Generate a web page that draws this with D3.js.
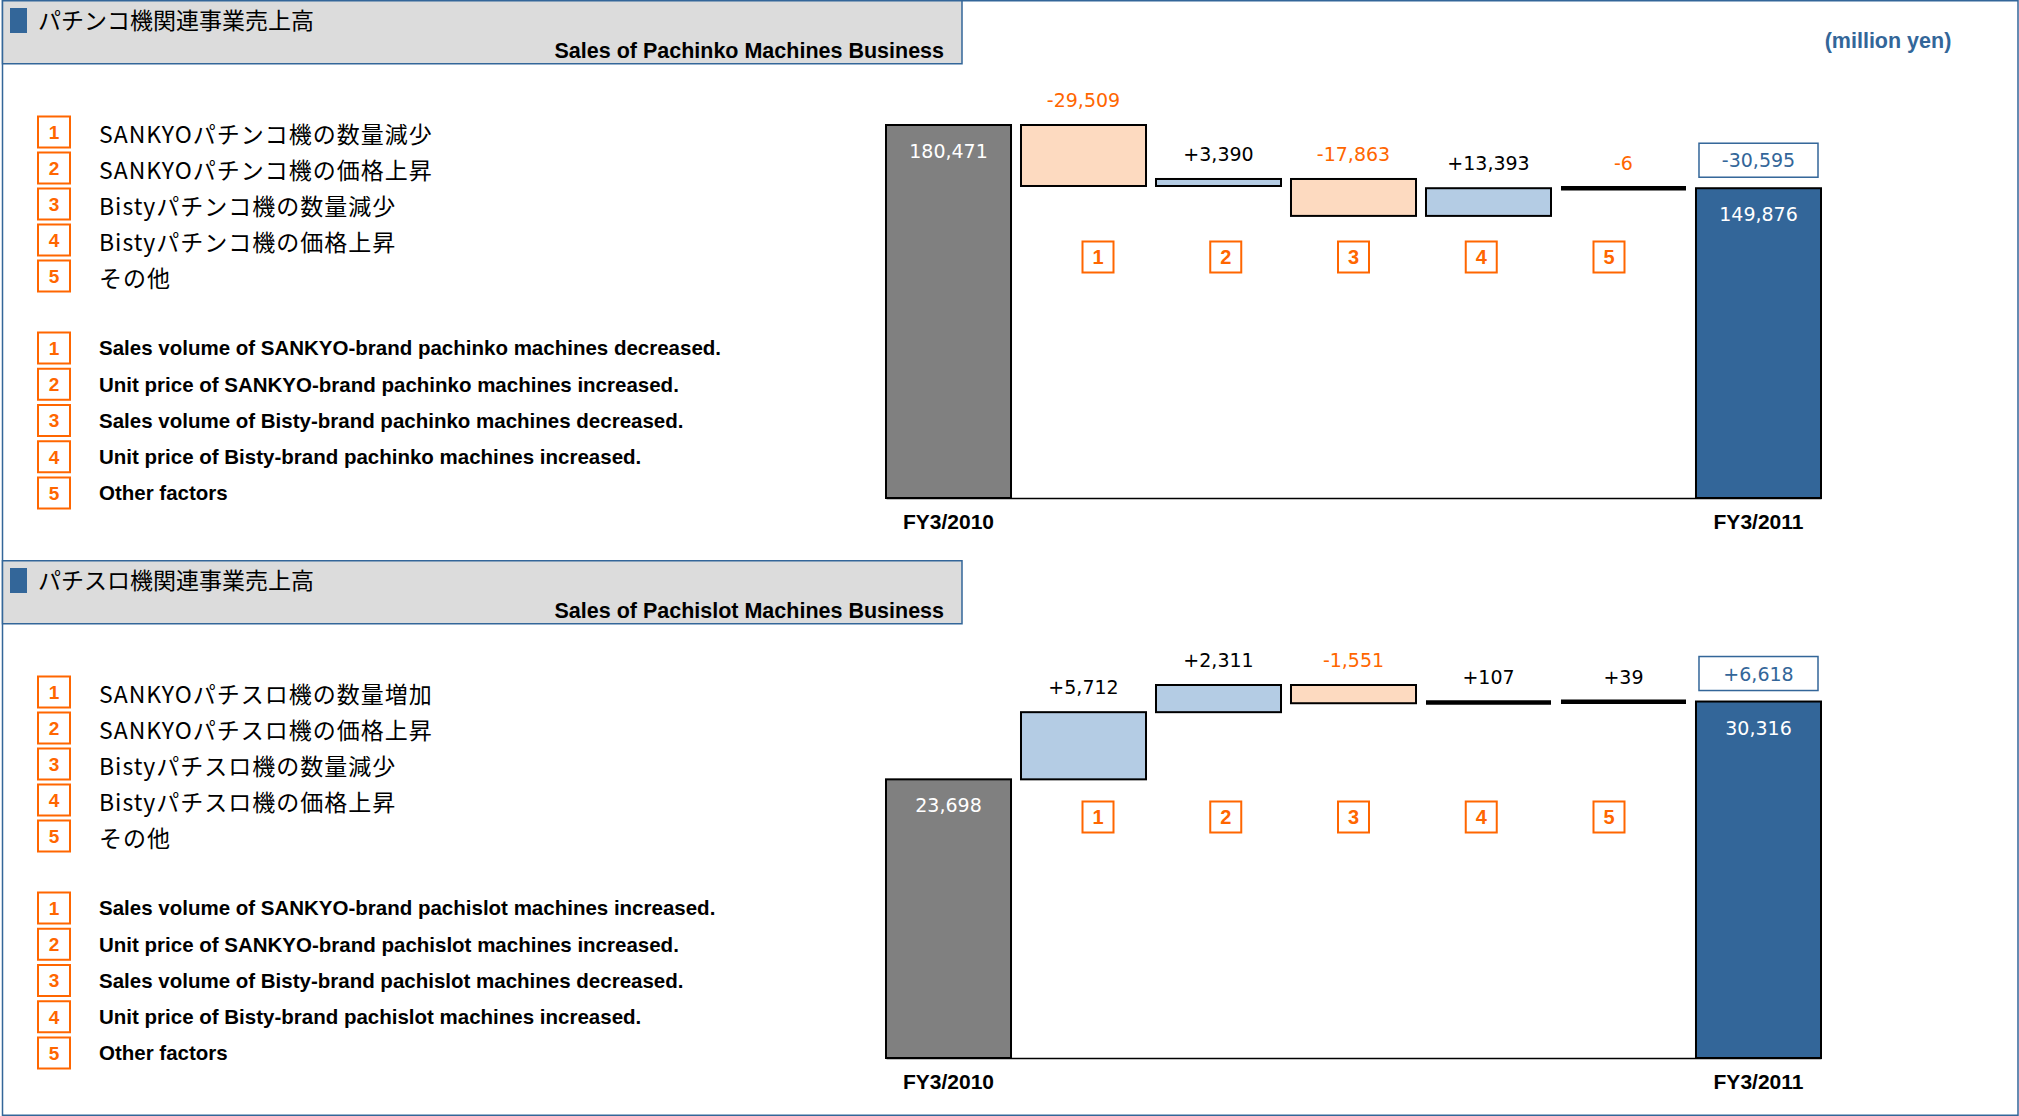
<!DOCTYPE html>
<html>
<head>
<meta charset="utf-8">
<script src="https://cdn.jsdelivr.net/npm/d3@7"></script>
<style>
  body { margin: 0; background: #fff; }
  svg { display: block; }
</style>
</head>
<body>
<div id="chart"></div>
<script>
// categories of the waterfall
const steps = ['FY3/2010', '1', '2', '3', '4', '5', 'FY3/2011'];
const factorIds = ['1', '2', '3', '4', '5'];

// pachinko values (million yen)
const pachinkoStart = 180471;
const pachinkoChanges = [-29509, 3390, -17863, 13393, -6];
const pachinkoEnd = 149876;
const pachinkoTotal = -30595;

// pachislot values (million yen)
const pachislotStart = 23698;
const pachislotChanges = [5712, 2311, -1551, 107, 39];
const pachislotEnd = 30316;
const pachislotTotal = 6618;

const pachinkoTitles = ['パチンコ機関連事業売上高', 'Sales of Pachinko Machines Business'];
const pachislotTitles = ['パチスロ機関連事業売上高', 'Sales of Pachislot Machines Business'];

const pachinkoJp = [
    'SANKYOパチンコ機の数量減少',
    'SANKYOパチンコ機の価格上昇',
    'Bistyパチンコ機の数量減少',
    'Bistyパチンコ機の価格上昇',
    'その他'
];
const pachinkoEn = [
    'Sales volume of SANKYO-brand pachinko machines decreased.',
    'Unit price of SANKYO-brand pachinko machines increased.',
    'Sales volume of Bisty-brand pachinko machines decreased.',
    'Unit price of Bisty-brand pachinko machines increased.',
    'Other factors'
];
const pachislotJp = [
    'SANKYOパチスロ機の数量増加',
    'SANKYOパチスロ機の価格上昇',
    'Bistyパチスロ機の数量減少',
    'Bistyパチスロ機の価格上昇',
    'その他'
];
const pachislotEn = [
    'Sales volume of SANKYO-brand pachislot machines increased.',
    'Unit price of SANKYO-brand pachislot machines increased.',
    'Sales volume of Bisty-brand pachislot machines decreased.',
    'Unit price of Bisty-brand pachislot machines increased.',
    'Other factors'
];

const BLUE = '#336699';
const ORANGE = '#FF6600';
const SANS = '"Liberation Sans", Arial, sans-serif';
const JP = '"Noto Sans CJK JP", sans-serif';
const NUM = '"DejaVu Sans", Verdana, sans-serif';

const locale = d3.formatLocale({ decimal: '.', thousands: ',', grouping: [3], currency: ['', ''], minus: '-' });
const fmt = locale.format(',');
const fmtSigned = locale.format('+,');

const svg = d3.select('#chart').append('svg')
    .attr('width', 2019)
    .attr('height', 1116);

// page frame
svg.append('rect')
    .attr('x', 2.5).attr('y', 0.75)
    .attr('width', 2015.5).attr('height', 1114.5)
    .attr('fill', 'none')
    .attr('stroke', BLUE)
    .attr('stroke-width', 1.5);

svg.append('text')
    .attr('x', 1888).attr('y', 48)
    .attr('text-anchor', 'middle')
    .attr('font-family', SANS)
    .attr('font-weight', 'bold')
    .attr('font-size', 21.5)
    .attr('fill', BLUE)
    .text('(million yen)');

drawSection(0, {
    titles: pachinkoTitles, jp: pachinkoJp, en: pachinkoEn,
    start: pachinkoStart, changes: pachinkoChanges, end: pachinkoEnd, total: pachinkoTotal
});
drawSection(560, {
    titles: pachislotTitles, jp: pachislotJp, en: pachislotEn,
    start: pachislotStart, changes: pachislotChanges, end: pachislotEnd, total: pachislotTotal
});

function numberBox(g, cx, cy, w, h, label, size) {
    g.append('rect')
        .attr('x', cx - w / 2).attr('y', cy - h / 2)
        .attr('width', w).attr('height', h)
        .attr('fill', '#fff')
        .attr('stroke', ORANGE)
        .attr('stroke-width', 2);
    g.append('text')
        .attr('x', cx).attr('y', cy + size * 0.36)
        .attr('text-anchor', 'middle')
        .attr('font-family', SANS)
        .attr('font-weight', 'bold')
        .attr('font-size', size)
        .attr('fill', ORANGE)
        .text(label);
}

function drawSection(top, cfg) {
    const g = svg.append('g').attr('transform', `translate(0,${top})`);

    // header band
    g.append('rect')
        .attr('x', 2.5).attr('y', 0.75)
        .attr('width', 959.5).attr('height', 63)
        .attr('fill', '#DCDCDC')
        .attr('stroke', BLUE)
        .attr('stroke-width', 1.5);
    g.append('rect')
        .attr('x', 10).attr('y', 8)
        .attr('width', 17).attr('height', 25)
        .attr('fill', BLUE);
    g.append('text')
        .attr('x', 38).attr('y', 29)
        .attr('font-family', JP)
        .attr('font-size', 23)
        .attr('fill', '#000')
        .text(cfg.titles[0]);
    g.append('text')
        .attr('x', 944).attr('y', 58)
        .attr('text-anchor', 'end')
        .attr('font-family', SANS)
        .attr('font-weight', 'bold')
        .attr('font-size', 21.5)
        .attr('fill', '#000')
        .text(cfg.titles[1]);

    // legends
    cfg.jp.forEach((t, i) => {
        const cy = 116 + i * 36 + 16;
        numberBox(g, 54, cy, 32, 31, factorIds[i], 19);
        g.append('text')
            .attr('x', 99).attr('y', cy + 2 + 23 * 0.38)
            .attr('font-family', JP)
            .attr('font-size', 23)
            .attr('letter-spacing', 1)
            .attr('fill', '#000')
            .text(t);
    });
    cfg.en.forEach((t, i) => {
        const cy = 332 + i * 36.25 + 16;
        numberBox(g, 54, cy, 32, 31, factorIds[i], 19);
        g.append('text')
            .attr('x', 99).attr('y', cy + 20.5 * 0.36)
            .attr('font-family', SANS)
            .attr('font-weight', 'bold')
            .attr('font-size', 20.5)
            .attr('fill', '#000')
            .text(t);
    });

    // waterfall data
    let cum = cfg.start;
    const bars = [{ key: steps[0], y0: 0, y1: cfg.start, type: 'start' }];
    cfg.changes.forEach((c, i) => {
        bars.push({ key: steps[i + 1], y0: cum, y1: cum + c, type: c < 0 ? 'down' : 'up', value: c });
        cum += c;
    });
    bars.push({ key: steps[6], y0: 0, y1: cfg.end, type: 'end' });

    const x = d3.scaleBand()
        .domain(steps)
        .range([886, 1821])
        .paddingInner(0.074);

    const y = d3.scaleLinear()
        .domain([0, d3.max(bars, d => Math.max(d.y0, d.y1))])
        .range([498, 125]);

    const fill = { start: '#808080', end: BLUE, up: '#B4CCE4', down: '#FDDAC0' };

    const thick = bars.filter(d => Math.abs(y(d.y0) - y(d.y1)) < 3);
    const boxes = bars.filter(d => Math.abs(y(d.y0) - y(d.y1)) >= 3);

    g.selectAll('.bar')
        .data(boxes)
        .enter().append('rect')
        .attr('class', 'bar')
        .attr('x', d => x(d.key))
        .attr('y', d => y(Math.max(d.y0, d.y1)))
        .attr('width', x.bandwidth())
        .attr('height', d => Math.abs(y(d.y0) - y(d.y1)))
        .attr('fill', d => fill[d.type])
        .attr('stroke', '#000')
        .attr('stroke-width', 2);

    g.selectAll('.flat')
        .data(thick)
        .enter().append('line')
        .attr('class', 'flat')
        .attr('x1', d => x(d.key))
        .attr('x2', d => x(d.key) + x.bandwidth())
        .attr('y1', d => y((d.y0 + d.y1) / 2))
        .attr('y2', d => y((d.y0 + d.y1) / 2))
        .attr('stroke', '#000')
        .attr('stroke-width', 4.5);

    // change labels above the steps
    g.selectAll('.chg')
        .data(bars.filter(d => d.value !== undefined))
        .enter().append('text')
        .attr('class', 'chg')
        .attr('x', d => x(d.key) + x.bandwidth() / 2)
        .attr('y', d => y(Math.max(d.y0, d.y1)) - 18)
        .attr('text-anchor', 'middle')
        .attr('font-family', NUM)
        .attr('font-size', 19)
        .attr('fill', d => d.value < 0 ? ORANGE : '#000')
        .text(d => fmtSigned(d.value));

    // totals inside start / end bars
    g.selectAll('.tot')
        .data(bars.filter(d => d.type === 'start' || d.type === 'end'))
        .enter().append('text')
        .attr('class', 'tot')
        .attr('x', d => x(d.key) + x.bandwidth() / 2)
        .attr('y', d => y(d.y1) + 33)
        .attr('text-anchor', 'middle')
        .attr('font-family', NUM)
        .attr('font-size', 19)
        .attr('fill', '#fff')
        .text(d => fmt(d.y1));

    // overall change box
    const endBar = bars[bars.length - 1];
    g.append('rect')
        .attr('x', x(endBar.key) + 3)
        .attr('y', y(endBar.y1) - 45)
        .attr('width', x.bandwidth() - 6)
        .attr('height', 34)
        .attr('fill', '#fff')
        .attr('stroke', BLUE)
        .attr('stroke-width', 1.5);
    g.append('text')
        .attr('x', x(endBar.key) + x.bandwidth() / 2)
        .attr('y', y(endBar.y1) - 28 + 7)
        .attr('text-anchor', 'middle')
        .attr('font-family', NUM)
        .attr('font-size', 19)
        .attr('fill', BLUE)
        .text(fmtSigned(cfg.total));

    // factor number boxes under the steps
    const px = d3.scalePoint()
        .domain(factorIds)
        .range([x('1') + x.bandwidth() / 2 + 14.5, x('5') + x.bandwidth() / 2 - 14.5]);
    factorIds.forEach(k => numberBox(g, px(k), 257, 31, 31, k, 20));

    // baseline axis with year labels
    const axis = g.append('g')
        .attr('transform', 'translate(0,498)')
        .call(d3.axisBottom(x)
            .tickSize(0)
            .tickPadding(16)
            .tickFormat(d => d.startsWith('FY') ? d : ''));
    axis.select('.domain')
        .attr('stroke', '#000')
        .attr('stroke-width', 1.5);
    axis.selectAll('text')
        .attr('font-family', SANS)
        .attr('font-weight', 'bold')
        .attr('font-size', 21)
        .attr('fill', '#000');
}
</script>
</body>
</html>
